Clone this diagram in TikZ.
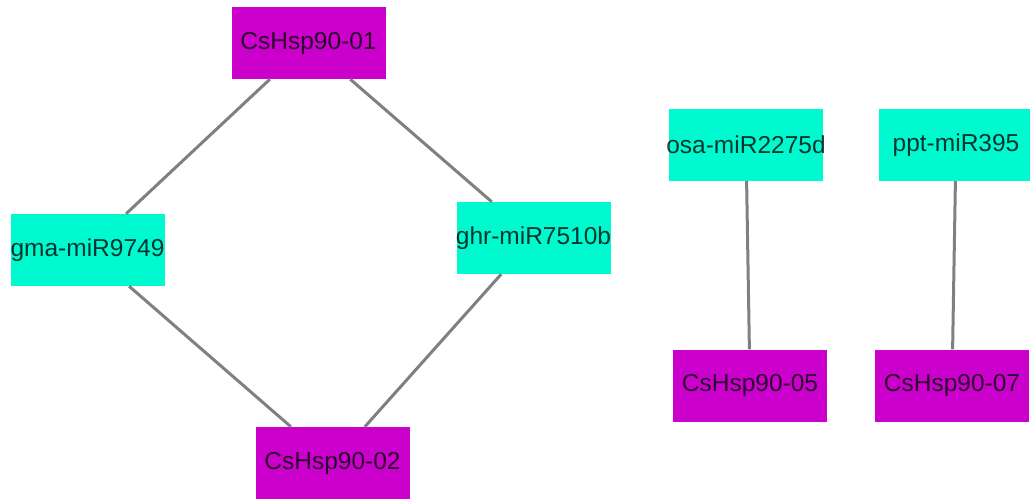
\documentclass[tikz,border=0pt]{standalone}
\usepackage{fontspec}
\setmainfont{Liberation Sans}
\definecolor{hspc}{RGB}{204,0,204}
\definecolor{mirc}{RGB}{0,250,208}
\definecolor{edgec}{RGB}{128,128,128}
\newcommand\nodelbl[1]{\hbox to 154pt{\hss#1\hss}}
\begin{document}
\begin{tikzpicture}[x=1pt,y=-1pt,
  base/.style={minimum width=154pt,minimum height=72pt,inner sep=0pt,
    font=\fontsize{24.5}{27}\selectfont,text=black,text opacity=0.78},
  hsp/.style={base,fill=hspc},
  mir/.style={base,fill=mirc},
  link/.style={draw=edgec,line width=3pt}]
\useasboundingbox (0,0) rectangle (1030,503);
\node[hsp] (h01) at (308.5,43) {\nodelbl{CsHsp90-01}};
\node[mir] (g9749) at (87.5,250) {\nodelbl{gma-miR9749}};
\node[mir] (g7510) at (533.5,238) {\nodelbl{ghr-miR7510b}};
\node[hsp] (h02) at (332.5,463) {\nodelbl{CsHsp90-02}};
\node[mir] (osa) at (746,145) {\nodelbl{osa-miR2275d}};
\node[mir] (ppt) at (956,145) {\nodelbl{ppt-miR395}};
\node[hsp] (h05) at (750,385.5) {\nodelbl{CsHsp90-05}};
\node[hsp] (h07) at (952,385.5) {\nodelbl{CsHsp90-07}};
\draw[link] (h01) -- (g9749);
\draw[link] (h01) -- (g7510);
\draw[link] (g9749) -- (h02);
\draw[link] (g7510) -- (h02);
\draw[link] (osa) -- (h05);
\draw[link] (ppt) -- (h07);
\end{tikzpicture}
\end{document}
